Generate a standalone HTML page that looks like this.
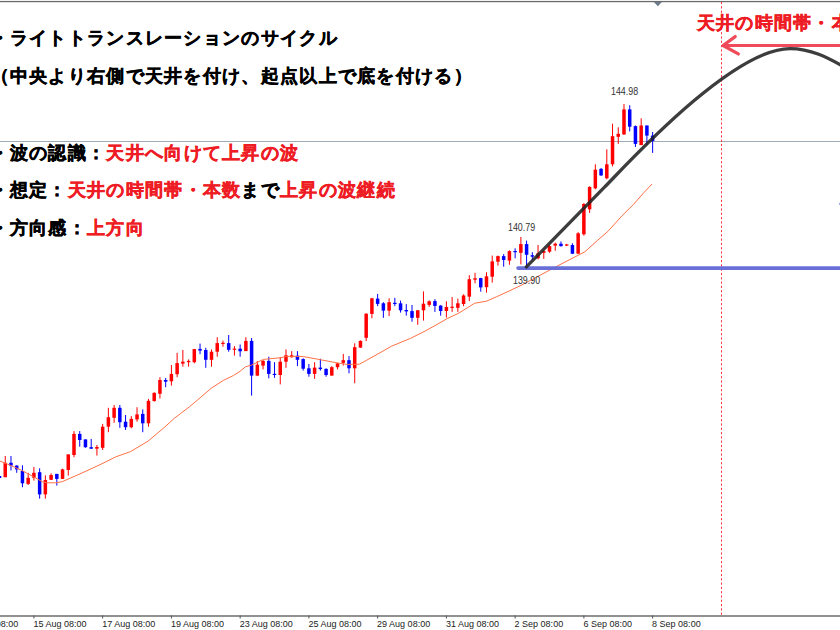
<!DOCTYPE html>
<html><head><meta charset="utf-8"><style>
html,body{margin:0;padding:0;background:#fff;width:840px;height:630px;overflow:hidden}
body{position:relative;font-family:"Liberation Sans",sans-serif}
svg{position:absolute;left:0;top:0}
.t{position:absolute;white-space:nowrap;font-weight:bold;font-size:18px;line-height:22px;color:#000;letter-spacing:1.3px;-webkit-text-stroke:0.45px currentColor}
.r{color:#ee1c24}
.ax{position:absolute;top:617.5px;font-size:9px;line-height:12px;color:#222;white-space:nowrap}
.pl{position:absolute;font-size:10.5px;line-height:12px;color:#333;white-space:nowrap;transform:scaleX(0.845);transform-origin:0 0}
</style></head><body>
<svg width="840" height="630" viewBox="0 0 840 630">
<rect x="0" y="0" width="840" height="1" fill="#f2f2f2"/>
<rect x="0" y="1" width="840" height="1.2" fill="#6a6a6a"/>
<path d="M653.8,2 L661.9,2 L657.9,6.3 Z" fill="#6b7b8b"/>
<rect x="0" y="141" width="840" height="1" fill="#a2acb6"/>
<line x1="721.5" y1="2" x2="721.5" y2="615" stroke="#ff3344" stroke-width="1" stroke-dasharray="2.2 2.1"/>
<rect x="0" y="615.1" width="840" height="1.8" fill="#858585"/>
<rect x="33.40" y="615.5" width="1" height="3" fill="#555"/>
<rect x="102.15" y="615.5" width="1" height="3" fill="#555"/>
<rect x="170.90" y="615.5" width="1" height="3" fill="#555"/>
<rect x="239.65" y="615.5" width="1" height="3" fill="#555"/>
<rect x="308.40" y="615.5" width="1" height="3" fill="#555"/>
<rect x="377.15" y="615.5" width="1" height="3" fill="#555"/>
<rect x="445.90" y="615.5" width="1" height="3" fill="#555"/>
<rect x="514.65" y="615.5" width="1" height="3" fill="#555"/>
<rect x="583.40" y="615.5" width="1" height="3" fill="#555"/>
<rect x="652.15" y="615.5" width="1" height="3" fill="#555"/>
<rect x="-0.97" y="474.5" width="1" height="4.5" fill="#0000ff"/>
<rect x="-2.22" y="476.0" width="3.5" height="2.0" fill="#0000ff"/>
<rect x="4.75" y="456.0" width="1" height="21.2" fill="#ff0000"/>
<rect x="3.50" y="462.8" width="3.5" height="14.4" fill="#ff0000"/>
<rect x="10.48" y="456.0" width="1" height="14.5" fill="#0000ff"/>
<rect x="9.23" y="462.8" width="3.5" height="2.8" fill="#0000ff"/>
<rect x="16.21" y="465.3" width="1" height="7.5" fill="#0000ff"/>
<rect x="14.96" y="465.6" width="3.5" height="3.8" fill="#0000ff"/>
<rect x="21.94" y="465.3" width="1" height="21.9" fill="#0000ff"/>
<rect x="20.69" y="471.0" width="3.5" height="12.3" fill="#0000ff"/>
<rect x="27.67" y="472.8" width="1" height="12.2" fill="#ff0000"/>
<rect x="26.42" y="477.8" width="3.5" height="6.1" fill="#ff0000"/>
<rect x="33.40" y="467.0" width="1" height="13.6" fill="#ff0000"/>
<rect x="32.15" y="472.8" width="3.5" height="5.0" fill="#ff0000"/>
<rect x="39.13" y="468.3" width="1" height="30.4" fill="#0000ff"/>
<rect x="37.88" y="472.2" width="3.5" height="22.2" fill="#0000ff"/>
<rect x="44.86" y="475.3" width="1" height="23.4" fill="#ff0000"/>
<rect x="43.61" y="480.0" width="3.5" height="14.4" fill="#ff0000"/>
<rect x="50.59" y="473.3" width="1" height="6.7" fill="#ff0000"/>
<rect x="49.34" y="475.0" width="3.5" height="4.8" fill="#ff0000"/>
<rect x="56.32" y="473.9" width="1" height="11.7" fill="#0000ff"/>
<rect x="55.07" y="473.9" width="3.5" height="5.0" fill="#0000ff"/>
<rect x="62.05" y="468.7" width="1" height="10.2" fill="#ff0000"/>
<rect x="60.80" y="469.4" width="3.5" height="9.5" fill="#ff0000"/>
<rect x="67.77" y="454.4" width="1" height="21.2" fill="#ff0000"/>
<rect x="66.52" y="454.4" width="3.5" height="15.6" fill="#ff0000"/>
<rect x="73.50" y="431.1" width="1" height="26.1" fill="#ff0000"/>
<rect x="72.25" y="433.9" width="3.5" height="21.1" fill="#ff0000"/>
<rect x="79.23" y="431.1" width="1" height="15.6" fill="#0000ff"/>
<rect x="77.98" y="433.9" width="3.5" height="6.1" fill="#0000ff"/>
<rect x="84.96" y="439.4" width="1" height="8.4" fill="#0000ff"/>
<rect x="83.71" y="439.4" width="3.5" height="7.8" fill="#0000ff"/>
<rect x="90.69" y="438.9" width="1" height="10.0" fill="#0000ff"/>
<rect x="89.44" y="447.2" width="3.5" height="1.5" fill="#0000ff"/>
<rect x="96.42" y="445.0" width="1" height="10.6" fill="#ff0000"/>
<rect x="95.17" y="447.0" width="3.5" height="1.7" fill="#ff0000"/>
<rect x="102.15" y="423.9" width="1" height="26.1" fill="#ff0000"/>
<rect x="100.90" y="426.7" width="3.5" height="21.1" fill="#ff0000"/>
<rect x="107.88" y="407.8" width="1" height="24.4" fill="#ff0000"/>
<rect x="106.63" y="417.2" width="3.5" height="9.5" fill="#ff0000"/>
<rect x="113.61" y="405.0" width="1" height="17.8" fill="#ff0000"/>
<rect x="112.36" y="407.8" width="3.5" height="10.0" fill="#ff0000"/>
<rect x="119.34" y="405.0" width="1" height="22.8" fill="#0000ff"/>
<rect x="118.09" y="407.8" width="3.5" height="14.4" fill="#0000ff"/>
<rect x="125.06" y="415.0" width="1" height="15.0" fill="#0000ff"/>
<rect x="123.81" y="421.7" width="3.5" height="5.5" fill="#0000ff"/>
<rect x="130.79" y="416.1" width="1" height="12.2" fill="#ff0000"/>
<rect x="129.54" y="418.9" width="3.5" height="8.3" fill="#ff0000"/>
<rect x="136.52" y="407.2" width="1" height="14.5" fill="#ff0000"/>
<rect x="135.27" y="414.4" width="3.5" height="5.0" fill="#ff0000"/>
<rect x="142.25" y="409.4" width="1" height="22.8" fill="#0000ff"/>
<rect x="141.00" y="413.9" width="3.5" height="9.4" fill="#0000ff"/>
<rect x="147.98" y="398.9" width="1" height="27.8" fill="#ff0000"/>
<rect x="146.73" y="400.8" width="3.5" height="22.5" fill="#ff0000"/>
<rect x="153.71" y="392.2" width="1" height="9.5" fill="#ff0000"/>
<rect x="152.46" y="392.9" width="3.5" height="8.1" fill="#ff0000"/>
<rect x="159.44" y="377.2" width="1" height="21.3" fill="#ff0000"/>
<rect x="158.19" y="380.0" width="3.5" height="13.8" fill="#ff0000"/>
<rect x="165.17" y="378.0" width="1" height="9.2" fill="#0000ff"/>
<rect x="163.92" y="380.0" width="3.5" height="1.7" fill="#0000ff"/>
<rect x="170.90" y="365.0" width="1" height="20.6" fill="#ff0000"/>
<rect x="169.65" y="373.9" width="3.5" height="7.4" fill="#ff0000"/>
<rect x="176.62" y="352.8" width="1" height="24.4" fill="#ff0000"/>
<rect x="175.38" y="363.1" width="3.5" height="11.1" fill="#ff0000"/>
<rect x="182.35" y="350.0" width="1" height="16.7" fill="#ff0000"/>
<rect x="181.10" y="361.7" width="3.5" height="1.9" fill="#ff0000"/>
<rect x="188.08" y="359.4" width="1" height="7.3" fill="#ff0000"/>
<rect x="186.83" y="360.9" width="3.5" height="1.3" fill="#ff0000"/>
<rect x="193.81" y="348.9" width="1" height="14.4" fill="#ff0000"/>
<rect x="192.56" y="349.1" width="3.5" height="13.1" fill="#ff0000"/>
<rect x="199.54" y="343.6" width="1" height="10.6" fill="#0000ff"/>
<rect x="198.29" y="348.9" width="3.5" height="1.7" fill="#0000ff"/>
<rect x="205.27" y="347.8" width="1" height="20.0" fill="#0000ff"/>
<rect x="204.02" y="350.0" width="3.5" height="9.8" fill="#0000ff"/>
<rect x="211.00" y="349.4" width="1" height="17.3" fill="#ff0000"/>
<rect x="209.75" y="351.7" width="3.5" height="8.1" fill="#ff0000"/>
<rect x="216.73" y="337.2" width="1" height="19.5" fill="#ff0000"/>
<rect x="215.48" y="343.1" width="3.5" height="8.6" fill="#ff0000"/>
<rect x="222.46" y="340.6" width="1" height="6.1" fill="#ff0000"/>
<rect x="221.21" y="342.8" width="3.5" height="1.2" fill="#ff0000"/>
<rect x="228.19" y="335.0" width="1" height="16.7" fill="#0000ff"/>
<rect x="226.94" y="343.1" width="3.5" height="6.7" fill="#0000ff"/>
<rect x="233.92" y="346.1" width="1" height="9.5" fill="#ff0000"/>
<rect x="232.67" y="348.6" width="3.5" height="1.2" fill="#ff0000"/>
<rect x="239.64" y="344.4" width="1" height="12.3" fill="#0000ff"/>
<rect x="238.39" y="348.7" width="3.5" height="2.6" fill="#0000ff"/>
<rect x="245.37" y="337.2" width="1" height="13.9" fill="#ff0000"/>
<rect x="244.12" y="340.9" width="3.5" height="10.2" fill="#ff0000"/>
<rect x="251.10" y="338.0" width="1" height="57.6" fill="#0000ff"/>
<rect x="249.85" y="340.9" width="3.5" height="34.7" fill="#0000ff"/>
<rect x="256.83" y="361.1" width="1" height="15.0" fill="#ff0000"/>
<rect x="255.58" y="364.7" width="3.5" height="10.9" fill="#ff0000"/>
<rect x="262.56" y="360.0" width="1" height="9.4" fill="#ff0000"/>
<rect x="261.31" y="360.9" width="3.5" height="4.7" fill="#ff0000"/>
<rect x="268.29" y="356.7" width="1" height="21.6" fill="#0000ff"/>
<rect x="267.04" y="360.9" width="3.5" height="13.0" fill="#0000ff"/>
<rect x="274.02" y="362.2" width="1" height="15.6" fill="#0000ff"/>
<rect x="272.77" y="373.8" width="3.5" height="1.2" fill="#0000ff"/>
<rect x="279.75" y="357.2" width="1" height="27.2" fill="#ff0000"/>
<rect x="278.50" y="361.7" width="3.5" height="13.3" fill="#ff0000"/>
<rect x="285.48" y="349.4" width="1" height="18.4" fill="#ff0000"/>
<rect x="284.23" y="355.3" width="3.5" height="6.4" fill="#ff0000"/>
<rect x="291.20" y="351.1" width="1" height="6.7" fill="#ff0000"/>
<rect x="289.95" y="355.3" width="3.5" height="1.9" fill="#ff0000"/>
<rect x="296.93" y="351.1" width="1" height="15.0" fill="#0000ff"/>
<rect x="295.68" y="355.6" width="3.5" height="4.2" fill="#0000ff"/>
<rect x="302.66" y="358.3" width="1" height="12.3" fill="#0000ff"/>
<rect x="301.41" y="359.1" width="3.5" height="9.6" fill="#0000ff"/>
<rect x="308.39" y="363.9" width="1" height="12.8" fill="#0000ff"/>
<rect x="307.14" y="368.3" width="3.5" height="5.6" fill="#0000ff"/>
<rect x="314.12" y="362.2" width="1" height="16.7" fill="#ff0000"/>
<rect x="312.87" y="367.6" width="3.5" height="6.3" fill="#ff0000"/>
<rect x="319.85" y="358.7" width="1" height="11.9" fill="#0000ff"/>
<rect x="318.60" y="367.6" width="3.5" height="1.5" fill="#0000ff"/>
<rect x="325.58" y="368.3" width="1" height="8.4" fill="#0000ff"/>
<rect x="324.33" y="368.9" width="3.5" height="6.1" fill="#0000ff"/>
<rect x="331.31" y="366.1" width="1" height="9.5" fill="#ff0000"/>
<rect x="330.06" y="367.2" width="3.5" height="8.4" fill="#ff0000"/>
<rect x="337.04" y="362.8" width="1" height="6.6" fill="#ff0000"/>
<rect x="335.79" y="363.3" width="3.5" height="3.9" fill="#ff0000"/>
<rect x="342.77" y="353.9" width="1" height="11.7" fill="#ff0000"/>
<rect x="341.52" y="360.2" width="3.5" height="2.6" fill="#ff0000"/>
<rect x="348.50" y="356.1" width="1" height="17.2" fill="#0000ff"/>
<rect x="347.25" y="360.2" width="3.5" height="8.1" fill="#0000ff"/>
<rect x="354.22" y="343.3" width="1" height="40.0" fill="#ff0000"/>
<rect x="352.97" y="347.2" width="3.5" height="21.1" fill="#ff0000"/>
<rect x="359.95" y="340.4" width="1" height="7.4" fill="#ff0000"/>
<rect x="358.70" y="340.9" width="3.5" height="6.7" fill="#ff0000"/>
<rect x="365.68" y="313.3" width="1" height="27.8" fill="#ff0000"/>
<rect x="364.43" y="313.7" width="3.5" height="24.1" fill="#ff0000"/>
<rect x="371.41" y="297.8" width="1" height="20.5" fill="#ff0000"/>
<rect x="370.16" y="298.3" width="3.5" height="15.6" fill="#ff0000"/>
<rect x="377.14" y="293.9" width="1" height="12.2" fill="#0000ff"/>
<rect x="375.89" y="298.6" width="3.5" height="5.3" fill="#0000ff"/>
<rect x="382.87" y="302.2" width="1" height="15.6" fill="#0000ff"/>
<rect x="381.62" y="303.3" width="3.5" height="7.3" fill="#0000ff"/>
<rect x="388.60" y="298.3" width="1" height="17.8" fill="#ff0000"/>
<rect x="387.35" y="302.2" width="3.5" height="8.4" fill="#ff0000"/>
<rect x="394.33" y="297.8" width="1" height="8.3" fill="#0000ff"/>
<rect x="393.08" y="302.8" width="3.5" height="1.2" fill="#0000ff"/>
<rect x="400.06" y="300.6" width="1" height="12.0" fill="#0000ff"/>
<rect x="398.81" y="303.3" width="3.5" height="7.0" fill="#0000ff"/>
<rect x="405.78" y="304.1" width="1" height="11.5" fill="#0000ff"/>
<rect x="404.53" y="310.0" width="3.5" height="1.4" fill="#0000ff"/>
<rect x="411.51" y="305.0" width="1" height="16.7" fill="#0000ff"/>
<rect x="410.26" y="311.1" width="3.5" height="6.7" fill="#0000ff"/>
<rect x="417.24" y="310.0" width="1" height="14.8" fill="#ff0000"/>
<rect x="415.99" y="310.3" width="3.5" height="7.5" fill="#ff0000"/>
<rect x="422.97" y="291.4" width="1" height="29.2" fill="#ff0000"/>
<rect x="421.72" y="303.7" width="3.5" height="6.6" fill="#ff0000"/>
<rect x="428.70" y="300.4" width="1" height="6.4" fill="#ff0000"/>
<rect x="427.45" y="301.3" width="3.5" height="3.6" fill="#ff0000"/>
<rect x="434.43" y="299.2" width="1" height="12.7" fill="#0000ff"/>
<rect x="433.18" y="301.1" width="3.5" height="4.8" fill="#0000ff"/>
<rect x="440.16" y="305.2" width="1" height="10.5" fill="#0000ff"/>
<rect x="438.91" y="305.6" width="3.5" height="5.4" fill="#0000ff"/>
<rect x="445.89" y="301.3" width="1" height="16.3" fill="#ff0000"/>
<rect x="444.64" y="307.0" width="3.5" height="4.0" fill="#ff0000"/>
<rect x="451.62" y="297.0" width="1" height="14.9" fill="#ff0000"/>
<rect x="450.37" y="306.7" width="3.5" height="1.2" fill="#ff0000"/>
<rect x="457.35" y="298.6" width="1" height="13.3" fill="#ff0000"/>
<rect x="456.10" y="303.3" width="3.5" height="4.5" fill="#ff0000"/>
<rect x="463.07" y="294.3" width="1" height="11.9" fill="#ff0000"/>
<rect x="461.82" y="295.5" width="3.5" height="8.5" fill="#ff0000"/>
<rect x="468.80" y="275.2" width="1" height="25.9" fill="#ff0000"/>
<rect x="467.55" y="279.2" width="3.5" height="17.5" fill="#ff0000"/>
<rect x="474.53" y="272.8" width="1" height="10.5" fill="#ff0000"/>
<rect x="473.28" y="278.3" width="3.5" height="1.4" fill="#ff0000"/>
<rect x="480.26" y="277.8" width="1" height="13.9" fill="#0000ff"/>
<rect x="479.01" y="278.1" width="3.5" height="9.3" fill="#0000ff"/>
<rect x="485.99" y="272.2" width="1" height="20.4" fill="#ff0000"/>
<rect x="484.74" y="276.3" width="3.5" height="10.9" fill="#ff0000"/>
<rect x="491.72" y="255.6" width="1" height="27.0" fill="#ff0000"/>
<rect x="490.47" y="261.4" width="3.5" height="15.3" fill="#ff0000"/>
<rect x="497.45" y="255.6" width="1" height="10.0" fill="#ff0000"/>
<rect x="496.20" y="256.1" width="3.5" height="5.6" fill="#ff0000"/>
<rect x="503.18" y="254.1" width="1" height="12.6" fill="#0000ff"/>
<rect x="501.93" y="256.1" width="3.5" height="3.9" fill="#0000ff"/>
<rect x="508.91" y="250.3" width="1" height="14.5" fill="#ff0000"/>
<rect x="507.66" y="251.1" width="3.5" height="9.5" fill="#ff0000"/>
<rect x="514.64" y="248.3" width="1" height="10.0" fill="#0000ff"/>
<rect x="513.39" y="251.0" width="3.5" height="1.2" fill="#0000ff"/>
<rect x="520.37" y="237.0" width="1" height="27.4" fill="#ff0000"/>
<rect x="519.12" y="244.1" width="3.5" height="8.7" fill="#ff0000"/>
<rect x="526.09" y="240.6" width="1" height="25.5" fill="#0000ff"/>
<rect x="524.84" y="244.1" width="3.5" height="10.7" fill="#0000ff"/>
<rect x="531.82" y="252.2" width="1" height="7.8" fill="#0000ff"/>
<rect x="530.57" y="255.2" width="3.5" height="1.5" fill="#0000ff"/>
<rect x="537.55" y="245.0" width="1" height="14.4" fill="#ff0000"/>
<rect x="536.30" y="253.3" width="3.5" height="5.0" fill="#ff0000"/>
<rect x="543.28" y="250.3" width="1" height="8.6" fill="#ff0000"/>
<rect x="542.03" y="251.1" width="3.5" height="1.7" fill="#ff0000"/>
<rect x="549.01" y="245.0" width="1" height="7.8" fill="#ff0000"/>
<rect x="547.76" y="246.1" width="3.5" height="5.6" fill="#ff0000"/>
<rect x="554.74" y="242.6" width="1" height="8.2" fill="#ff0000"/>
<rect x="553.49" y="243.7" width="3.5" height="1.9" fill="#ff0000"/>
<rect x="560.47" y="241.4" width="1" height="5.3" fill="#0000ff"/>
<rect x="559.22" y="243.7" width="3.5" height="2.4" fill="#0000ff"/>
<rect x="566.20" y="243.9" width="1" height="2.2" fill="#ff0000"/>
<rect x="564.95" y="244.4" width="3.5" height="1.2" fill="#ff0000"/>
<rect x="571.93" y="243.3" width="1" height="10.8" fill="#0000ff"/>
<rect x="570.68" y="245.0" width="3.5" height="8.7" fill="#0000ff"/>
<rect x="577.65" y="232.2" width="1" height="21.5" fill="#ff0000"/>
<rect x="576.40" y="233.3" width="3.5" height="20.4" fill="#ff0000"/>
<rect x="583.38" y="203.1" width="1" height="32.6" fill="#ff0000"/>
<rect x="582.13" y="204.0" width="3.5" height="30.3" fill="#ff0000"/>
<rect x="589.11" y="186.4" width="1" height="26.5" fill="#ff0000"/>
<rect x="587.86" y="186.9" width="3.5" height="22.4" fill="#ff0000"/>
<rect x="594.84" y="164.3" width="1" height="25.0" fill="#ff0000"/>
<rect x="593.59" y="169.7" width="3.5" height="18.6" fill="#ff0000"/>
<rect x="600.57" y="168.0" width="1" height="8.0" fill="#0000ff"/>
<rect x="599.32" y="168.9" width="3.5" height="6.5" fill="#0000ff"/>
<rect x="606.30" y="149.3" width="1" height="30.0" fill="#ff0000"/>
<rect x="605.05" y="164.3" width="3.5" height="14.0" fill="#ff0000"/>
<rect x="612.03" y="123.7" width="1" height="42.7" fill="#ff0000"/>
<rect x="610.78" y="136.2" width="3.5" height="28.1" fill="#ff0000"/>
<rect x="617.76" y="127.3" width="1" height="16.6" fill="#ff0000"/>
<rect x="616.51" y="133.8" width="3.5" height="3.0" fill="#ff0000"/>
<rect x="623.49" y="104.0" width="1" height="31.0" fill="#ff0000"/>
<rect x="622.24" y="109.4" width="3.5" height="25.0" fill="#ff0000"/>
<rect x="629.22" y="105.2" width="1" height="26.2" fill="#0000ff"/>
<rect x="627.97" y="109.4" width="3.5" height="17.3" fill="#0000ff"/>
<rect x="634.94" y="125.5" width="1" height="21.4" fill="#0000ff"/>
<rect x="633.69" y="126.1" width="3.5" height="17.8" fill="#0000ff"/>
<rect x="640.67" y="118.3" width="1" height="26.8" fill="#ff0000"/>
<rect x="639.42" y="125.5" width="3.5" height="19.6" fill="#ff0000"/>
<rect x="646.40" y="125.5" width="1" height="19.6" fill="#0000ff"/>
<rect x="645.15" y="125.5" width="3.5" height="10.1" fill="#0000ff"/>
<rect x="652.13" y="132.0" width="1" height="20.9" fill="#0000ff"/>
<rect x="650.88" y="135.6" width="3.5" height="5.4" fill="#0000ff"/>
<path d="M0.0,461.1 L11.1,465.6 L22.2,470.6 L33.3,476.7 L42.2,481.7 L46.7,482.8 L55.6,482.8 L62.2,481.7 L80.0,473.9 L100.0,464.7 L115.7,456.9 L130.5,451.6 L148.0,441.2 L164.6,427.2 L174.3,418.3 L180.5,413.6 L189.5,406.7 L194.2,402.8 L211.7,387.9 L223.9,380.1 L233.3,375.6 L240.0,371.3 L245.6,366.7 L251.1,365.3 L263.3,359.4 L280.0,357.8 L286.7,356.4 L300.0,356.4 L303.9,356.7 L317.2,359.1 L339.4,363.3 L347.2,364.4 L359.4,364.2 L375.0,355.6 L391.7,346.1 L410.6,338.3 L423.9,331.7 L435.0,325.6 L447.2,318.6 L458.0,313.5 L470.0,306.2 L474.4,303.3 L486.7,301.1 L496.7,296.7 L510.0,290.6 L521.7,285.0 L557.2,266.1 L585.0,251.7 L597.9,240.0 L607.9,231.4 L622.1,215.7 L633.6,204.3 L643.6,192.9 L652.1,184.0" fill="none" stroke="#ff7045" stroke-width="1"/>
<line x1="518" y1="268.1" x2="845" y2="268.1" stroke="#6870d8" stroke-width="3.6" stroke-linecap="round"/>
<path d="M526.4,266.9 L605,186.7 C626,165.3 732,48.6 790,48.6 C816,48.6 836,63 850,70" fill="none" stroke="#222" stroke-opacity="0.88" stroke-width="3.3" stroke-linecap="round"/>
<g stroke="#f04b5a" fill="none" stroke-linecap="round" stroke-linejoin="round">
<line x1="724" y1="45.5" x2="845" y2="45.5" stroke-width="2.9"/>
<polyline points="735.2,36.6 723.1,45.5 738.3,53.9" stroke-width="3.3"/>
</g>
<rect x="839" y="202.8" width="1" height="2.2" fill="#a4aaf0"/>
</svg>
<div class="pl" style="left:507.5px;top:221px">140.79</div>
<div class="pl" style="left:513px;top:273.5px">139.90</div>
<div class="pl" style="left:611px;top:84.8px">144.98</div>
<div class="ax" style="left:33.4px">15 Aug 08:00</div>
<div class="ax" style="left:102.2px">17 Aug 08:00</div>
<div class="ax" style="left:170.9px">19 Aug 08:00</div>
<div class="ax" style="left:239.7px">23 Aug 08:00</div>
<div class="ax" style="left:308.4px">25 Aug 08:00</div>
<div class="ax" style="left:377.1px">29 Aug 08:00</div>
<div class="ax" style="left:445.9px">31 Aug 08:00</div>
<div class="ax" style="left:514.6px">2 Sep 08:00</div>
<div class="ax" style="left:583.4px">6 Sep 08:00</div>
<div class="ax" style="left:652.1px">8 Sep 08:00</div>
<div class="ax" style="left:-34.9px">13 Aug 08:00</div>
<div class="t" style="left:-9.5px;top:26.5px">・ライトトランスレーションのサイクル</div>
<div class="t" style="left:-9.5px;top:65px">（中央より右側で天井を付け、起点以上で底を付ける）</div>
<div class="t" style="left:-9.5px;top:141.7px">・波の認識：<span class="r">天井へ向けて上昇の波</span></div>
<div class="t" style="left:-9.5px;top:179.3px">・想定：<span class="r">天井の時間帯・本数</span>まで<span class="r">上昇の波継続</span></div>
<div class="t" style="left:-9.5px;top:217.3px">・方向感：<span class="r">上方向</span></div>
<div class="t r" style="left:696.7px;top:12px;">天井の時間帯・本数</div>
</body></html>
